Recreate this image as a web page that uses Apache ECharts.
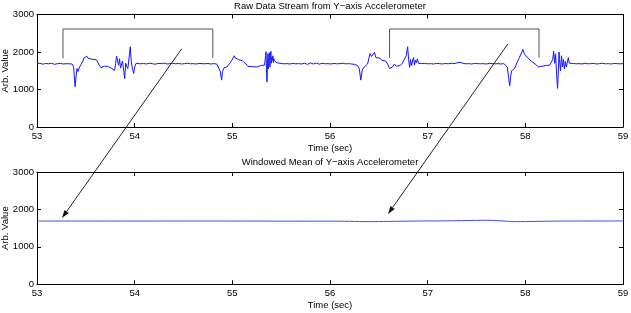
<!DOCTYPE html>
<html><head><meta charset="utf-8">
<script src="https://cdn.jsdelivr.net/npm/echarts@6/dist/echarts.min.js"></script>
<style>html,body{margin:0;padding:0;background:#fff}#c{width:631px;height:313px}</style>
</head><body><div id="c"></div>
<script>
// ---- DATA ----
var rawTimes = [
53.00,53.03,53.06,53.09,53.12,53.15,53.18,53.21,53.24,53.27,53.30,53.33,53.36,
53.375,53.39,53.40,53.41,53.42,53.435,53.45,53.47,53.48,53.495,53.51,53.525,53.54,53.56,53.58,53.61,53.625,53.64,53.655,53.67,53.69,53.70,53.72,53.74,53.76,53.78,53.795,53.805,53.815,53.825,53.835,53.845,53.855,53.865,53.875,53.888,53.898,53.908,53.918,53.93,53.945,53.955,53.965,53.978,53.99,54.00,54.015,54.03,
54.06,54.09,54.12,54.15,54.18,54.21,54.24,54.27,54.30,54.33,54.36,54.39,54.42,54.45,54.48,54.51,54.54,54.57,54.60,54.63,54.66,54.69,54.72,54.75,54.78,54.81,54.84,
54.86,54.875,54.89,54.90,54.915,54.93,54.945,54.96,54.98,54.995,55.01,55.02,55.03,55.05,55.07,55.10,55.12,55.14,55.16,55.18,55.20,55.22,55.25,55.27,55.29,55.31,55.33,55.34,55.345,55.35,55.355,55.36,55.365,55.37,55.375,55.38,55.385,55.39,55.395,55.40,55.405,55.41,55.415,55.42,55.425,55.43,55.44,55.45,55.46,55.47,
55.50,55.53,55.56,55.59,55.62,55.65,55.68,55.71,55.74,55.77,55.80,55.83,55.86,55.89,55.92,55.95,55.98,56.01,56.04,56.07,56.10,56.13,56.16,56.19,56.22,56.25,
56.28,56.30,56.315,56.33,56.35,56.37,56.385,56.40,56.41,56.425,56.44,56.455,56.47,56.49,56.51,56.53,56.55,56.57,56.59,56.61,56.625,56.64,56.66,56.68,56.70,56.72,56.74,56.76,56.78,56.795,56.805,56.815,56.825,56.835,56.845,56.855,56.865,56.875,56.885,56.895,56.905,56.92,56.94,
56.97,57.00,57.03,57.06,57.09,57.12,57.15,57.18,57.21,57.24,57.27,57.30,57.33,57.36,57.39,57.42,57.45,57.48,57.51,57.54,57.57,57.60,57.63,57.66,57.69,57.72,57.75,57.78,57.80,
57.815,57.83,57.84,57.85,57.86,57.875,57.89,57.905,57.92,57.935,57.95,57.965,57.975,57.99,58.005,58.02,58.04,58.06,58.08,58.10,58.12,58.135,58.15,58.17,58.19,58.21,58.23,58.25,58.265,58.28,58.29,58.30,58.31,58.32,58.33,58.34,58.345,58.35,58.36,58.37,58.38,58.39,58.40,58.41,58.42,58.43,58.44,58.45,58.46,
58.49,58.52,58.55,58.58,58.61,58.64,58.67,58.70,58.73,58.76,58.79,58.82,58.85,58.88,58.91,58.94,58.97,59.00
];
var rawValues = [
1690,1700,1675,1695,1685,1700,1670,1690,1695,1680,1690,1685,1680,
1600,1075,1350,1560,1480,1600,1660,1760,1840,1810,1890,1830,1820,1810,1800,1790,1740,1640,1580,1600,1620,1580,1620,1630,1570,1530,1510,1700,1890,1760,1650,1820,1570,1620,1760,1500,1290,1700,1620,1560,1900,2140,1750,1540,1430,1600,1700,1690,
1685,1695,1680,1700,1690,1675,1695,1690,1705,1680,1690,1700,1685,1695,1680,1690,1700,1685,1690,1680,1695,1690,1685,1695,1680,1690,1680,
1640,1500,1250,1480,1580,1540,1600,1650,1720,1780,1830,1900,1840,1800,1790,1770,1720,1680,1620,1600,1610,1580,1600,1580,1640,1620,1650,1900,2010,1500,1200,1700,1960,1550,1850,1980,1600,1900,2020,1700,1850,1780,1900,1720,1820,1760,1800,1740,1710,1690,
1695,1685,1690,1680,1695,1685,1690,1680,1700,1670,1710,1680,1705,1675,1700,1685,1690,1680,1695,1685,1690,1700,1685,1690,1680,1670,
1640,1560,1250,1520,1600,1640,1680,1850,1960,1880,1900,1990,1850,1820,1840,1780,1800,1760,1680,1560,1530,1600,1680,1620,1610,1640,1700,1720,1900,2140,1800,1590,1800,1640,1760,1850,1650,1780,1720,1820,1700,1750,1690,
1695,1685,1690,1680,1695,1690,1680,1695,1685,1700,1690,1710,1725,1700,1685,1690,1680,1695,1690,1685,1690,1680,1695,1690,1685,1690,1680,1690,1670,
1600,1300,1100,1350,1500,1480,1560,1600,1750,1830,1800,2000,2070,1950,1900,1860,1820,1760,1720,1680,1640,1600,1640,1620,1600,1640,1620,1650,1640,1800,2020,1700,1950,1400,1030,1600,2000,1800,1500,1900,1600,1800,1550,1750,1600,1720,1850,1700,1690,
1695,1685,1690,1680,1700,1685,1690,1695,1680,1690,1700,1685,1690,1680,1695,1690,1685,1690
];
var meanTimes  = [53.0,53.5,54.0,54.5,55.0,55.5,56.0,56.2,56.4,56.6,56.8,57.0,57.2,57.4,57.6,57.75,57.9,58.1,58.3,58.5,59.0];
var meanValues = [1690,1690,1689,1691,1690,1688,1688,1682,1674,1680,1688,1692,1696,1704,1710,1694,1674,1680,1688,1690,1692];
var xTicks = [53,54,55,56,57,58,59];
var yTicks = [0,1000,2000,3000];
var titles = ['Raw Data Stream from Y\u2212axis Accelerometer','Windowed Mean of Y\u2212axis Accelerometer'];
// brackets (top plot): [x, y] pairs
var bracket1 = [[53.266,1830],[53.266,2613],[54.80,2613],[54.80,1840]];
var bracket2 = [[56.61,1850],[56.61,2613],[58.14,2613],[58.14,1850]];
// arrows: from top-plot point to bottom-plot point
var arrows = [
  {from:[54.48,2080], to:[53.256,1771]},
  {from:[57.82,2213], to:[56.594,1878]}
];

// ---- CHART ----
var FONT = '"Liberation Sans", Arial, sans-serif';
var chart = echarts.init(document.getElementById('c'), null, {renderer:'canvas'});
function zip(a,b){return a.map(function(v,i){return [v,b[i]];});}
function xAx(g, pos, showName){
  return {gridIndex:g, type:'value', position:pos, min:xTicks[0], max:xTicks[xTicks.length-1], interval:1,
    axisLine:{show:true, onZero:false, lineStyle:{color:'#000', width:1}},
    axisTick:{show:true, inside:true, length:4, lineStyle:{color:'#000'}},
    axisLabel:{show:pos==='bottom', color:'#000', fontSize:9.5, fontFamily:FONT, margin:4},
    splitLine:{show:false},
    name: showName ? 'Time (sec)' : '', nameLocation:'middle', nameGap:16, nameMoveOverlap:false,
    nameTextStyle:{color:'#000', fontSize:9.5, fontFamily:FONT}};
}
function yAx(g, pos, showName){
  return {gridIndex:g, type:'value', position:pos, min:yTicks[0], max:yTicks[yTicks.length-1], interval:1000,
    axisLine:{show:true, onZero:false, lineStyle:{color:'#000', width:1}},
    axisTick:{show:true, inside:true, length:4, lineStyle:{color:'#000'}},
    axisLabel:{show:pos==='left', color:'#000', fontSize:9.5, fontFamily:FONT, margin:3, formatter:function(v){return String(v);}},
    splitLine:{show:false},
    name: showName ? 'Arb. Value' : '', nameLocation:'middle', nameGap:27, nameMoveOverlap:false,
    nameTextStyle:{color:'#000', fontSize:9.5, fontFamily:FONT}};
}
var option = {
  animation:false,
  backgroundColor:'#fff',
  title:[
    {text:titles[0], left:330, top:1, textAlign:'center', padding:0, textStyle:{fontSize:9.5, fontWeight:'normal', color:'#000', fontFamily:FONT}},
    {text:titles[1], left:330, top:157.5, textAlign:'center', padding:0, textStyle:{fontSize:9.5, fontWeight:'normal', color:'#000', fontFamily:FONT}}
  ],
  grid:[
    {left:37, right:8, top:14.5, height:112.5, containLabel:false, outerBoundsMode:'none'},
    {left:37, right:8, top:172, height:112.3, containLabel:false, outerBoundsMode:'none'}
  ],
  xAxis:[xAx(0,'bottom',true), xAx(0,'top',false), xAx(1,'bottom',true), xAx(1,'top',false)],
  yAxis:[yAx(0,'left',true), yAx(0,'right',false), yAx(1,'left',true), yAx(1,'right',false)],
  series:[
    {type:'line', xAxisIndex:0, yAxisIndex:0, data:zip(rawTimes,rawValues), showSymbol:false, symbol:'none',
      lineStyle:{color:'#1414ff', width:1}, clip:true},
    {type:'line', xAxisIndex:2, yAxisIndex:2, data:zip(meanTimes,meanValues), showSymbol:false, symbol:'none', smooth:0.4,
      lineStyle:{color:'#3d4ef0', width:1}},
    {type:'line', xAxisIndex:0, yAxisIndex:0, data:bracket1, showSymbol:false, symbol:'none', lineStyle:{color:'#555', width:1}},
    {type:'line', xAxisIndex:0, yAxisIndex:0, data:bracket2, showSymbol:false, symbol:'none', lineStyle:{color:'#555', width:1}}
  ]
};
chart.setOption(option);

var gfx = [];
arrows.forEach(function(a){
  var p0 = chart.convertToPixel({gridIndex:0}, a.from);
  var p1 = chart.convertToPixel({gridIndex:1}, a.to);
  var dx = p1[0]-p0[0], dy = p1[1]-p0[1], len = Math.sqrt(dx*dx+dy*dy);
  var ux = dx/len, uy = dy/len, nx = -uy, ny = ux, L = 8, W = 2.6;
  var bx = p1[0]-ux*L, by = p1[1]-uy*L;
  gfx.push({type:'line', shape:{x1:p0[0], y1:p0[1], x2:bx, y2:by}, style:{stroke:'#222', lineWidth:1}, z:100});
  gfx.push({type:'polygon', shape:{points:[[p1[0],p1[1]],[bx+nx*W,by+ny*W],[bx-nx*W,by-ny*W]]}, style:{fill:'#111'}, z:100});
});
chart.setOption({graphic:gfx});
</script>
</body></html>
